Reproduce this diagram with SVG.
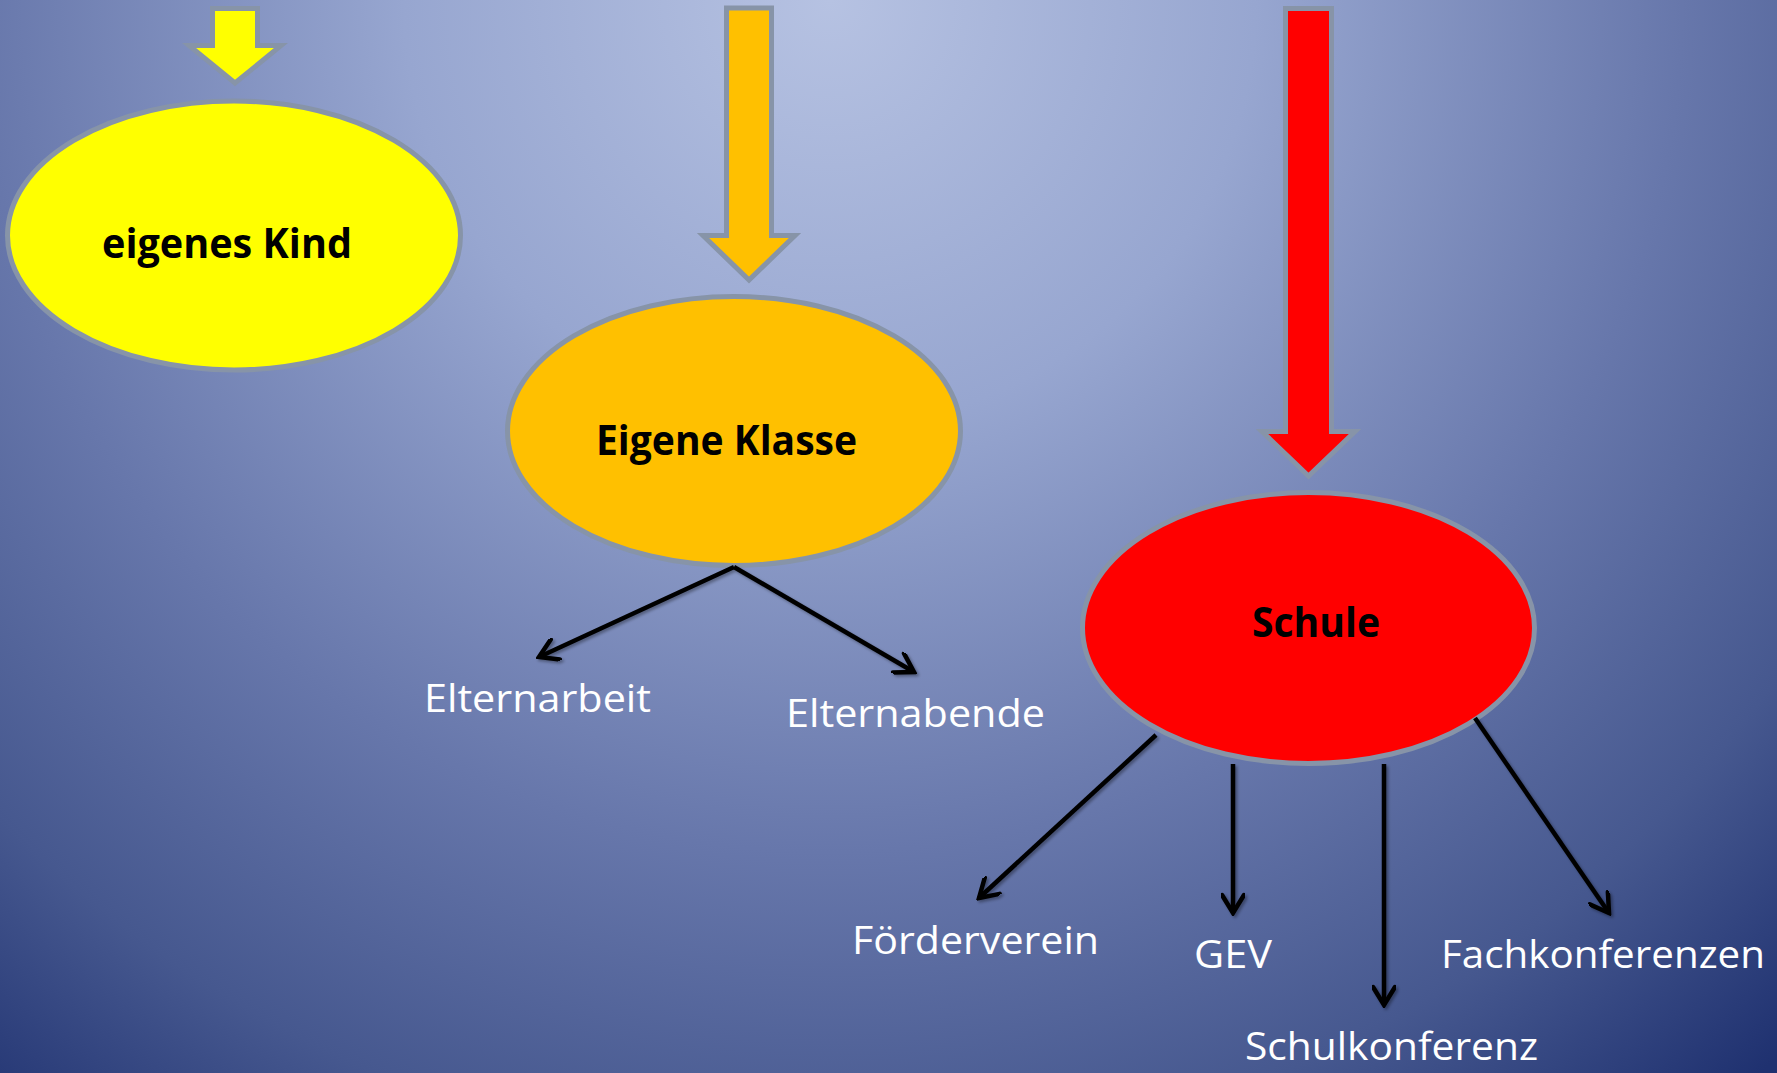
<svg xmlns="http://www.w3.org/2000/svg" width="1777" height="1073" viewBox="0 0 1777 1073">
<defs>
<radialGradient id="bg" gradientUnits="userSpaceOnUse" cx="830" cy="0" r="1420">
<stop offset="0" stop-color="#b6c2e2"/>
<stop offset="0.3" stop-color="#97a6d0"/>
<stop offset="0.6" stop-color="#6777ab"/>
<stop offset="0.82" stop-color="#46588f"/>
<stop offset="1" stop-color="#1f3170"/>
</radialGradient>
<marker id="arr" viewBox="0 0 24 24" refX="21" refY="12" markerWidth="24" markerHeight="24" markerUnits="userSpaceOnUse" orient="auto">
<path d="M3,1 L21,12 L3,23" fill="none" stroke="#000" stroke-width="4.5" stroke-linecap="round" stroke-linejoin="miter"/>
</marker>
<filter id="sh" filterUnits="userSpaceOnUse" x="0" y="0" width="1777" height="1073">
<feDropShadow dx="2" dy="2" stdDeviation="1.5" flood-color="#000" flood-opacity="0.35"/>
</filter>
</defs>
<style>
.blk{stroke:#8794a8;stroke-width:5;stroke-linejoin:miter}
.ell{stroke:#8794a8;stroke-width:5}
.nt{font-family:"Open Sans","Noto Sans","Liberation Sans",sans-serif;font-weight:700;font-size:42px;fill:#000}
.lb{font-family:"Open Sans","Noto Sans","Liberation Sans",sans-serif;font-size:39px;fill:#fff}
.con{stroke:#000;stroke-width:4.5;fill:none;marker-end:url(#arr)}
</style>
<rect width="1777" height="1073" fill="url(#bg)"/>

<g id="arrow-kind"><polygon class="blk" fill="#ffff00" points="212.5,8.5 257.5,8.5 257.5,45.5 281,45.5 235,83 189,45.5 212.5,45.5"/></g>
<g id="arrow-klasse"><polygon class="blk" fill="#ffc000" points="726.5,8 771.5,8 771.5,235.5 795,235.5 749,280 703,235.5 726.5,235.5"/></g>
<g id="arrow-schule"><polygon class="blk" fill="#ff0000" points="1285.5,8.5 1331.5,8.5 1331.5,431.5 1355,431.5 1308.5,476 1262,431.5 1285.5,431.5"/></g>

<g id="node-kind">
<ellipse class="ell" fill="#ffff00" cx="234" cy="235.5" rx="226.5" ry="134.5"/>
<text class="nt" x="102" y="258" textLength="250" lengthAdjust="spacingAndGlyphs">eigenes Kind</text>
</g>
<g id="node-klasse">
<ellipse class="ell" fill="#ffc000" cx="734" cy="431" rx="226.5" ry="134.5"/>
<text class="nt" x="596" y="455" textLength="261" lengthAdjust="spacingAndGlyphs">Eigene Klasse</text>
</g>
<g id="node-schule">
<ellipse class="ell" fill="#ff0000" cx="1308.5" cy="628" rx="226" ry="135.5"/>
<text class="nt" x="1252" y="637" textLength="128" lengthAdjust="spacingAndGlyphs">Schule</text>
</g>

<g id="connectors" filter="url(#sh)">
<line class="con" x1="734" y1="567" x2="539" y2="657"/>
<line class="con" x1="734" y1="567" x2="914" y2="672"/>
<line class="con" x1="1156" y1="735" x2="979" y2="898"/>
<line class="con" x1="1233" y1="764" x2="1233" y2="913"/>
<line class="con" x1="1384" y1="764" x2="1384" y2="1005"/>
<line class="con" x1="1475" y1="718" x2="1609" y2="913"/>
</g>

<g id="label-elternarbeit"><text class="lb" x="424" y="712" textLength="227" lengthAdjust="spacingAndGlyphs">Elternarbeit</text></g>
<g id="label-elternabende"><text class="lb" x="786" y="727" textLength="259" lengthAdjust="spacingAndGlyphs">Elternabende</text></g>
<g id="label-foerderverein"><text class="lb" x="852" y="954" textLength="247" lengthAdjust="spacingAndGlyphs">Förderverein</text></g>
<g id="label-gev"><text class="lb" x="1194" y="968" textLength="78" lengthAdjust="spacingAndGlyphs">GEV</text></g>
<g id="label-fachkonferenzen"><text class="lb" x="1441" y="968" textLength="324" lengthAdjust="spacingAndGlyphs">Fachkonferenzen</text></g>
<g id="label-schulkonferenz"><text class="lb" x="1245" y="1060" textLength="293" lengthAdjust="spacingAndGlyphs">Schulkonferenz</text></g>
</svg>
